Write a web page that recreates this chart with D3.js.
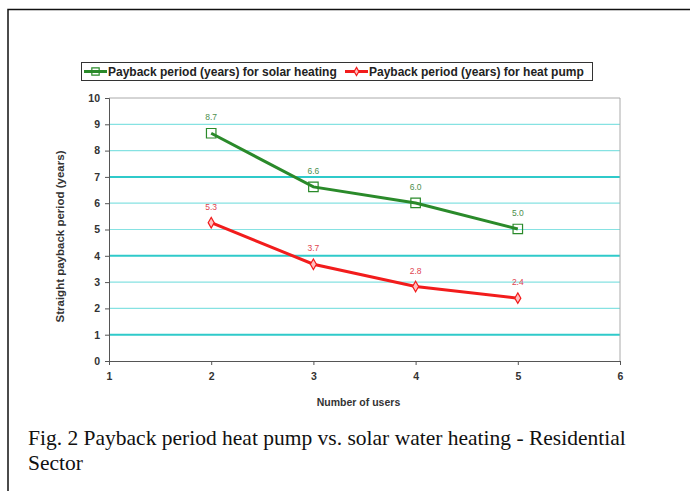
<!DOCTYPE html>
<html><head><meta charset="utf-8">
<script src="https://cdn.jsdelivr.net/npm/d3@7"></script>
<style>body{margin:0;background:#fff}svg{display:block}</style>
</head><body>
<svg id="c" width="690" height="491"></svg>
<script>
const users = [2, 3, 4, 5];
const solarPayback = [8.66, 6.62, 6.01, 5.02];
const heatPumpPayback = [5.26, 3.68, 2.83, 2.39];
const seriesNames = ["Payback period (years) for solar heating", "Payback period (years) for heat pump"];
const xTicks = [1, 2, 3, 4, 5, 6];
const yTicks = [0, 1, 2, 3, 4, 5, 6, 7, 8, 9, 10];
const yTitle = "Straight payback period (years)";
const xTitle = "Number of users";
const caption = ["Fig. 2 Payback period heat pump vs. solar water heating - Residential", "Sector"];

const svg = d3.select("#c");
const sans = "'Liberation Sans', Arial, sans-serif";
const x = d3.scaleLinear().domain([1, 6]).range([109, 620]);
const y = d3.scaleLinear().domain([0, 10]).range([361, 98]);

// figure frame
svg.append("path").attr("d", "M8,491V9.5H690").attr("fill", "none").attr("stroke", "#111").attr("stroke-width", 1.5);

// gridlines
svg.append("g").selectAll("line").data(yTicks.filter(d => d > 0 && d < 10)).join("line")
  .attr("x1", x(1) + 1).attr("x2", x(6)).attr("y1", d => y(d)).attr("y2", d => y(d))
  .attr("stroke", d => d % 3 === 1 ? "#2fcaca" : "#86e2e2")
  .attr("stroke-width", d => d % 3 === 1 ? 2 : 1.2);

// plot border top/right
svg.append("path").attr("d", `M${x(1)},${y(10)}H${x(6)}V${y(0)}`).attr("fill", "none").attr("stroke", "#aaa").attr("stroke-width", 1);

// axes
const yAxis = d3.axisLeft(y).tickValues(yTicks).tickSize(4).tickPadding(5).tickFormat(d3.format("d"));
const gy = svg.append("g").attr("transform", `translate(${x(1)},0)`).call(yAxis);
const xAxis = d3.axisBottom(x).tickValues(xTicks).tickSize(4).tickPadding(8).tickFormat(d3.format("d"));
const gx = svg.append("g").attr("transform", `translate(0,${y(0)})`).call(xAxis);
[gy, gx].forEach(g => {
  g.select(".domain").attr("stroke", "#555");
  g.selectAll(".tick line").attr("stroke", "#555");
  g.selectAll("text").attr("font-family", sans).attr("font-size", 10.5).attr("font-weight", "bold").attr("fill", "#333");
});

// axis titles
svg.append("text").attr("transform", `translate(64,${(y(0) + y(10)) / 2 + 7}) rotate(-90)`)
  .attr("text-anchor", "middle").attr("font-family", sans).attr("font-size", 11.5).attr("font-weight", "bold").attr("fill", "#333").text(yTitle);
svg.append("text").attr("x", (x(1) + x(6)) / 2 - 6).attr("y", 406).attr("text-anchor", "middle")
  .attr("font-family", sans).attr("font-size", 10.5).attr("font-weight", "bold").attr("fill", "#333").text(xTitle);

const line = d3.line().x(d => x(d[0])).y(d => y(d[1]));
const series = [
  {vals: solarPayback, color: "#2a8a2a", label: "#4d8f4d", sym: d3.symbolSquare, size: 90, fill: "none"},
  {vals: heatPumpPayback, color: "#f21c1c", label: "#e0454f", sym: d3.symbolDiamond, size: 32, fill: "#ffc0c0"}
];
series.forEach(s => {
  const pts = users.map((u, i) => [u, s.vals[i]]);
  svg.append("path").attr("d", line(pts)).attr("fill", "none").attr("stroke", s.color).attr("stroke-width", 3);
  svg.append("g").selectAll("path").data(pts).join("path")
    .attr("d", d3.symbol().type(s.sym).size(s.size))
    .attr("transform", d => `translate(${x(d[0])},${y(d[1])})`)
    .attr("fill", s.fill).attr("stroke", s.color).attr("stroke-width", 1.2);
  svg.append("g").selectAll("text").data(pts).join("text")
    .attr("x", d => x(d[0])).attr("y", d => y(d[1]) - 13).attr("text-anchor", "middle")
    .attr("font-family", sans).attr("font-size", 8.5).attr("fill", s.label).text(d => d[1].toFixed(1));
});

// legend
const lg = svg.append("g");
lg.append("rect").attr("x", 81.5).attr("y", 62.5).attr("width", 511).attr("height", 18).attr("fill", "#fff").attr("stroke", "#333");
const legendItems = [{x: 84, s: series[0], name: seriesNames[0]}, {x: 345, s: series[1], name: seriesNames[1]}];
legendItems.forEach(it => {
  lg.append("line").attr("x1", it.x).attr("x2", it.x + 23).attr("y1", 71.5).attr("y2", 71.5).attr("stroke", it.s.color).attr("stroke-width", 3);
  lg.append("path").attr("d", d3.symbol().type(it.s.sym).size(it.s.size * 0.6)).attr("transform", `translate(${it.x + 11.5},71.5)`)
    .attr("fill", it.s.fill).attr("stroke", it.s.color).attr("stroke-width", 1.2);
  lg.append("text").attr("x", it.x + 24).attr("y", 76).attr("font-family", sans).attr("font-size", 12).attr("font-weight", "bold").attr("fill", "#222").text(it.name);
});

// caption
svg.append("g").selectAll("text").data(caption).join("text")
  .attr("x", 28).attr("y", (d, i) => 445 + i * 25)
  .attr("font-family", "'Liberation Serif', 'Times New Roman', serif").attr("font-size", 21.5).attr("fill", "#111").text(d => d);
</script>
</body></html>
